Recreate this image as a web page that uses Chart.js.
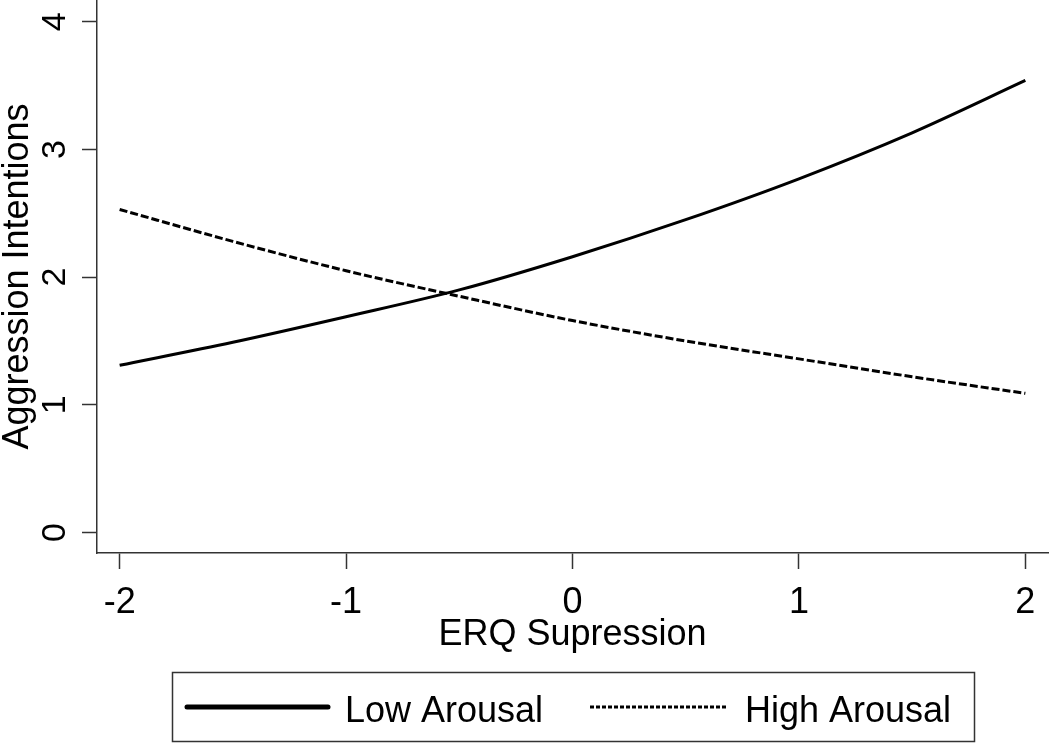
<!DOCTYPE html>
<html>
<head>
<meta charset="utf-8">
<script src="https://cdn.jsdelivr.net/npm/chart.js@4/dist/chart.umd.min.js"></script>
<style>
  html, body { margin: 0; padding: 0; background: #fff; }
</style>
</head>
<body>
<canvas id="chart" width="1050" height="743"></canvas>
<script>
// values
const suppression = [-2, -1.5, -1, -0.5, 0, 0.5, 1, 1.5, 2];
const lowArousal  = [1.31, 1.49, 1.69, 1.90, 2.16, 2.45, 2.77, 3.13, 3.54];
const highArousal = [2.53, 2.28, 2.05, 1.85, 1.66, 1.50, 1.36, 1.22, 1.09];
const xTicks = [-2, -1, 0, 1, 2];
const yTicks = [0, 1, 2, 3, 4];
const seriesNames = ['Low Arousal', 'High Arousal'];

const FONT = "'Liberation Sans', Arial, sans-serif";
const INK = '#000';
const AXIS = '#333';

function toPoints(xs, ys) {
  return xs.map((x, i) => ({ x: x, y: ys[i] }));
}

// no extra room for overhanging tick labels, the axes start at the canvas edge
function noOverhang(s) {
  s.paddingTop = 0;
  s.paddingBottom = 0;
  s.paddingLeft = 0;
  s.paddingRight = 0;
}

// boxed legend under the axis (Stata style)
const boxedLegend = {
  id: 'boxedLegend',
  afterDraw(chart) {
    const ctx = chart.ctx;
    ctx.save();
    ctx.strokeStyle = AXIS;
    ctx.lineWidth = 1.5;
    ctx.strokeRect(172.5, 672.5, 802, 69);

    const slots = [
      { x0: 187, x1: 328, tx: 345 },
      { x0: 590, x1: 728, tx: 745 }
    ];
    chart.data.datasets.forEach((ds, i) => {
      const s = slots[i];
      ctx.beginPath();
      ctx.setLineDash(i === 0 ? [] : [4, 2]);
      ctx.lineWidth = i === 0 ? 5 : 3;
      ctx.lineCap = i === 0 ? 'round' : 'butt';
      ctx.strokeStyle = INK;
      ctx.moveTo(s.x0, 707);
      ctx.lineTo(s.x1, 707);
      ctx.stroke();
      ctx.setLineDash([]);
      ctx.fillStyle = INK;
      ctx.font = '36px ' + FONT;
      ctx.textBaseline = 'alphabetic';
      ctx.textAlign = 'left';
      ctx.fillText(ds.label, s.tx, 722);
    });
    ctx.restore();
  }
};

new Chart(document.getElementById('chart'), {
  type: 'line',
  data: {
    datasets: [
      {
        label: seriesNames[0],
        data: toPoints(suppression, lowArousal),
        borderColor: INK,
        borderWidth: 3,
        pointRadius: 0,
        fill: false,
        cubicInterpolationMode: 'monotone'
      },
      {
        label: seriesNames[1],
        data: toPoints(suppression, highArousal),
        borderColor: INK,
        borderWidth: 3,
        borderDash: [8, 3],
        pointRadius: 0,
        fill: false,
        cubicInterpolationMode: 'monotone'
      }
    ]
  },
  options: {
    responsive: false,
    animation: false,
    devicePixelRatio: 1,
    layout: { padding: { left: 0, top: 0, right: 2, bottom: 90 } },
    plugins: {
      legend: { display: false },
      tooltip: { enabled: false }
    },
    scales: {
      x: {
        type: 'linear',
        min: -2.1,
        max: 2.1,
        afterBuildTicks: s => { s.ticks = xTicks.map(v => ({ value: v })); },
        afterFit: s => { s.height = 100; noOverhang(s); },
        ticks: {
          color: INK,
          font: { family: FONT, size: 36 },
          padding: 12,
          maxRotation: 0
        },
        grid: {
          drawOnChartArea: false,
          drawTicks: true,
          tickLength: 16,
          tickColor: AXIS,
          tickWidth: 1.5
        },
        border: { display: true, color: AXIS, width: 1.5 },
        title: {
          display: true,
          text: 'ERQ Supression',
          color: INK,
          font: { family: FONT, size: 36, lineHeight: 1 },
          padding: 0
        }
      },
      y: {
        type: 'linear',
        min: -0.16,
        max: 4.17,
        afterBuildTicks: s => { s.ticks = yTicks.map(v => ({ value: v })); },
        afterFit: s => { s.width = 97; noOverhang(s); },
        ticks: {
          color: INK,
          font: { family: FONT, size: 34 },
          minRotation: 90,
          maxRotation: 90,
          crossAlign: 'center',
          padding: 17
        },
        grid: {
          drawOnChartArea: false,
          drawTicks: true,
          tickLength: 15,
          tickColor: AXIS,
          tickWidth: 1.5
        },
        border: { display: true, color: AXIS, width: 1.5 },
        title: {
          display: true,
          text: 'Aggression Intentions',
          color: INK,
          font: { family: FONT, size: 36, lineHeight: 1 },
          padding: 0
        }
      }
    }
  },
  plugins: [boxedLegend]
});
</script>
</body>
</html>
